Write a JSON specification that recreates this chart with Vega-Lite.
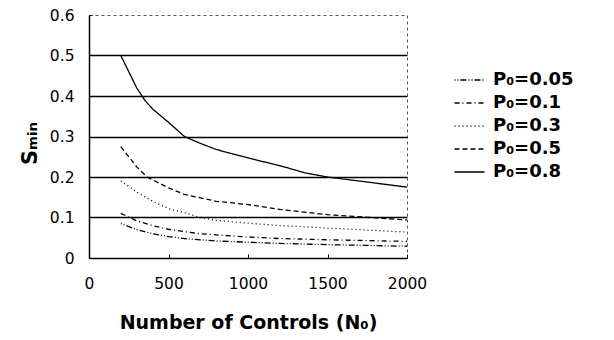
{
  "$schema": "https://vega.github.io/schema/vega-lite/v6.json",
  "width": 318,
  "height": 243,
  "autosize": {"type": "none"},
  "padding": {"left": 89, "top": 15, "right": 207, "bottom": 82},
  "background": "white",
  "config": {
    "view": {"stroke": "#555", "strokeDash": [3, 3], "strokeWidth": 1},
    "font": "DejaVu Sans"
  },
  "data": {
    "values": [
      {"P": "P₀=0.05", "N": 200, "S": 0.085},
      {"P": "P₀=0.05", "N": 300, "S": 0.07},
      {"P": "P₀=0.05", "N": 400, "S": 0.06},
      {"P": "P₀=0.05", "N": 500, "S": 0.053},
      {"P": "P₀=0.05", "N": 600, "S": 0.048},
      {"P": "P₀=0.05", "N": 700, "S": 0.045},
      {"P": "P₀=0.05", "N": 800, "S": 0.042},
      {"P": "P₀=0.05", "N": 1000, "S": 0.039},
      {"P": "P₀=0.05", "N": 1200, "S": 0.036},
      {"P": "P₀=0.05", "N": 1500, "S": 0.033},
      {"P": "P₀=0.05", "N": 2000, "S": 0.029},
      {"P": "P₀=0.1", "N": 200, "S": 0.11},
      {"P": "P₀=0.1", "N": 300, "S": 0.092},
      {"P": "P₀=0.1", "N": 400, "S": 0.08},
      {"P": "P₀=0.1", "N": 500, "S": 0.071},
      {"P": "P₀=0.1", "N": 600, "S": 0.065},
      {"P": "P₀=0.1", "N": 700, "S": 0.06},
      {"P": "P₀=0.1", "N": 800, "S": 0.057},
      {"P": "P₀=0.1", "N": 1000, "S": 0.052},
      {"P": "P₀=0.1", "N": 1200, "S": 0.048},
      {"P": "P₀=0.1", "N": 1500, "S": 0.045},
      {"P": "P₀=0.1", "N": 2000, "S": 0.041},
      {"P": "P₀=0.3", "N": 200, "S": 0.19},
      {"P": "P₀=0.3", "N": 300, "S": 0.163},
      {"P": "P₀=0.3", "N": 400, "S": 0.14},
      {"P": "P₀=0.3", "N": 500, "S": 0.122},
      {"P": "P₀=0.3", "N": 600, "S": 0.112},
      {"P": "P₀=0.3", "N": 700, "S": 0.1},
      {"P": "P₀=0.3", "N": 800, "S": 0.093},
      {"P": "P₀=0.3", "N": 1000, "S": 0.086},
      {"P": "P₀=0.3", "N": 1200, "S": 0.08},
      {"P": "P₀=0.3", "N": 1500, "S": 0.074},
      {"P": "P₀=0.3", "N": 2000, "S": 0.064},
      {"P": "P₀=0.5", "N": 200, "S": 0.275},
      {"P": "P₀=0.5", "N": 300, "S": 0.225},
      {"P": "P₀=0.5", "N": 365, "S": 0.2},
      {"P": "P₀=0.5", "N": 500, "S": 0.173},
      {"P": "P₀=0.5", "N": 600, "S": 0.157},
      {"P": "P₀=0.5", "N": 800, "S": 0.14},
      {"P": "P₀=0.5", "N": 1000, "S": 0.132},
      {"P": "P₀=0.5", "N": 1200, "S": 0.12},
      {"P": "P₀=0.5", "N": 1500, "S": 0.107},
      {"P": "P₀=0.5", "N": 2000, "S": 0.094},
      {"P": "P₀=0.8", "N": 200, "S": 0.5},
      {"P": "P₀=0.8", "N": 250, "S": 0.46},
      {"P": "P₀=0.8", "N": 300, "S": 0.42},
      {"P": "P₀=0.8", "N": 350, "S": 0.39},
      {"P": "P₀=0.8", "N": 400, "S": 0.368},
      {"P": "P₀=0.8", "N": 500, "S": 0.335},
      {"P": "P₀=0.8", "N": 600, "S": 0.3},
      {"P": "P₀=0.8", "N": 700, "S": 0.283},
      {"P": "P₀=0.8", "N": 800, "S": 0.268},
      {"P": "P₀=0.8", "N": 1000, "S": 0.247},
      {"P": "P₀=0.8", "N": 1200, "S": 0.228},
      {"P": "P₀=0.8", "N": 1360, "S": 0.21},
      {"P": "P₀=0.8", "N": 1500, "S": 0.2},
      {"P": "P₀=0.8", "N": 1700, "S": 0.19},
      {"P": "P₀=0.8", "N": 2000, "S": 0.175}
    ]
  },
  "mark": {"type": "line", "color": "black", "strokeWidth": 1.3},
  "encoding": {
    "x": {
      "field": "N",
      "type": "quantitative",
      "scale": {"domain": [0, 2000], "nice": false},
      "axis": {
        "values": [0, 500, 1000, 1500, 2000],
        "format": "d",
        "labelFlush": false,
        "title": "Number of Controls (N₀)",
        "grid": false,
        "domainColor": "black",
        "domainWidth": 1.5,
        "ticks": true,
        "tickColor": "black",
        "tickSize": -4,
        "labelPadding": 22,
        "labelFont": "DejaVu Sans",
        "labelFontSize": 15.5,
        "labelColor": "black",
        "titleFont": "DejaVu Sans",
        "titleFontWeight": "bold",
        "titleFontSize": 19,
        "titleColor": "black",
        "titleY": 64,
        "titleBaseline": "middle"
      }
    },
    "y": {
      "field": "S",
      "type": "quantitative",
      "scale": {"domain": [0, 0.6], "nice": false},
      "axis": {
        "values": [0, 0.1, 0.2, 0.3, 0.4, 0.5, 0.6],
        "format": ".1~f",
        "labelFlush": false,
        "title": "Sₘᵢₙ",
        "grid": true,
        "gridColor": "black",
        "gridWidth": 1.5,
        "gridOpacity": {"condition": {"test": "datum.value == 0 || datum.value == 0.6", "value": 0}, "value": 1},
        "domainColor": "black",
        "domainWidth": 1.5,
        "ticks": true,
        "tickColor": "black",
        "tickSize": -3,
        "labelPadding": 18,
        "labelFont": "DejaVu Sans",
        "labelFontSize": 15.5,
        "labelColor": "black",
        "titleFont": "DejaVu Sans",
        "titleFontWeight": "bold",
        "titleFontSize": 21,
        "titleColor": "black",
        "titleAngle": 270,
        "titleX": -59,
        "titleY": 128,
        "titleAlign": "center",
        "titleBaseline": "middle"
      }
    },
    "strokeDash": {
      "field": "P",
      "type": "nominal",
      "scale": {
        "domain": ["P₀=0.05", "P₀=0.1", "P₀=0.3", "P₀=0.5", "P₀=0.8"],
        "range": [[1, 2, 1, 2, 6, 2], [5, 3, 1, 3], [1, 3], [5, 3], [1, 0]]
      },
      "legend": {
        "title": null,
        "orient": "none",
        "legendX": 371.5,
        "legendY": 56,
        "padding": 0,
        "symbolType": "M-2,0H2",
        "symbolSize": 225,
        "symbolStrokeColor": "black",
        "symbolStrokeWidth": 1.3,
        "labelOffset": 14.5,
        "labelFont": "DejaVu Sans",
        "labelFontWeight": "bold",
        "labelFontSize": 18,
        "labelColor": "black",
        "rowPadding": 5
      }
    }
  }
}
